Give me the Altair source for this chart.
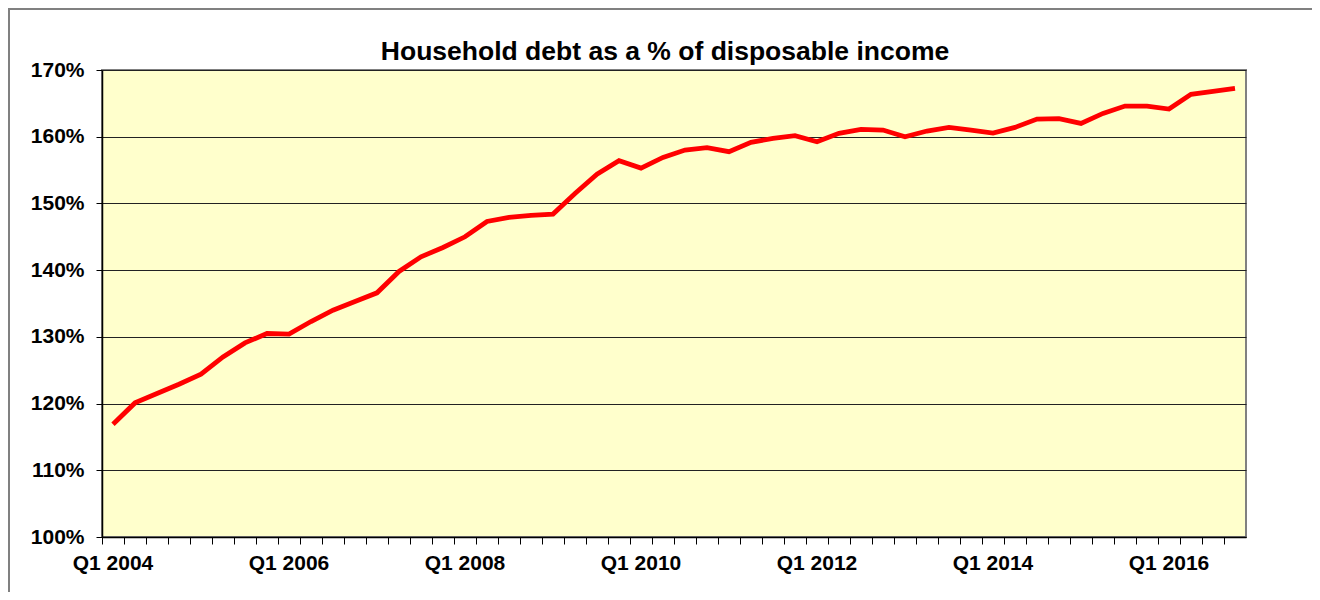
import altair as alt
import pandas as pd

# Categories: quarterly, Q1 2004 .. Q4 2016
quarters = [f"Q{q} {y}" for y in range(2004, 2017) for q in range(1, 5)]

# Household debt as % of disposable income
debt_pct = [
    116.9, 120.1, 121.5, 122.9,   # 2004
    124.4, 127.0, 129.1, 130.5,   # 2005
    130.4, 132.3, 134.0, 135.3,   # 2006
    136.6, 139.8, 142.0, 143.4,   # 2007
    145.0, 147.3, 147.9, 148.2,   # 2008
    148.4, 151.5, 154.4, 156.4,   # 2009
    155.3, 156.9, 158.0, 158.35,  # 2010
    157.75, 159.15, 159.75, 160.15,  # 2011
    159.25, 160.5, 161.1, 161.0,  # 2012
    160.0, 160.85, 161.4, 161.0,  # 2013
    160.55, 161.4, 162.65, 162.7,  # 2014
    162.0, 163.5, 164.6, 164.6,   # 2015
    164.15, 166.35, 166.8, 167.25,  # 2016
]

shown_labels = ["Q1 2004", "Q1 2006", "Q1 2008", "Q1 2010", "Q1 2012", "Q1 2014", "Q1 2016"]
y_ticks = [100, 110, 120, 130, 140, 150, 160, 170]

df = pd.DataFrame({"quarter": quarters, "debt": debt_pct})

FONT = "Liberation Sans"
label_list = "[" + ",".join(f"'{s}'" for s in shown_labels) + "]"

x_enc = alt.X(
    "quarter:N",
    sort=quarters,
    title=None,
    scale=alt.Scale(type="band", paddingInner=0, paddingOuter=0),
    axis=alt.Axis(
        bandPosition=0,
        labelAngle=0,
        labelExpr=f"indexof({label_list}, datum.value) >= 0 ? datum.value : ''",
        labelOverlap=False,
        tickSize=7,
        labelPadding=8,
        grid=False,
        domainWidth=1.5,
    ),
)

y_enc = alt.Y(
    "debt:Q",
    title=None,
    scale=alt.Scale(domain=[100, 170], nice=False, zero=False),
    axis=alt.Axis(
        values=y_ticks,
        labelExpr="datum.value + '%'",
        tickSize=6,
        labelPadding=12,
        grid=True,
        domainWidth=1.5,
    ),
)

line = alt.Chart(df).mark_line(color="#FF0000", strokeWidth=4.8, strokeJoin="miter").encode(
    x=x_enc, y=y_enc
)

frame = alt.Chart(pd.DataFrame({"k": [0]})).mark_rect(
    fill="white", fillOpacity=0, stroke="#808080", strokeWidth=2, clip=False
).encode(
    x=alt.value(-93), x2=alt.value(1211), y=alt.value(-61), y2=alt.value(530)
)

chart = (
    alt.layer(frame, line)
    .properties(
        width=1144,
        height=467,
        autosize=alt.AutoSizeParams(type="none"),
        padding={"left": 94, "top": 62, "right": 66, "bottom": 55},
        title=alt.Title(
            "Household debt as a % of disposable income",
            font=FONT,
            fontSize=26.5,
            fontWeight="bold",
            color="black",
            anchor="middle",
            baseline="alphabetic",
            offset=10,
            dy=88,
            dx=-9,
        ),
    )
    .configure_view(fill="#FFFFCC", stroke="#808080", strokeWidth=2)
    .configure_axis(
        labelFont=FONT,
        labelFontSize=21,
        labelFontWeight="bold",
        labelColor="black",
        domainColor="black",
        tickColor="black",
        gridColor="#222222",
        gridWidth=1,
    )
)

chart.save("out.html", embed_options={"renderer": "svg", "actions": False})
